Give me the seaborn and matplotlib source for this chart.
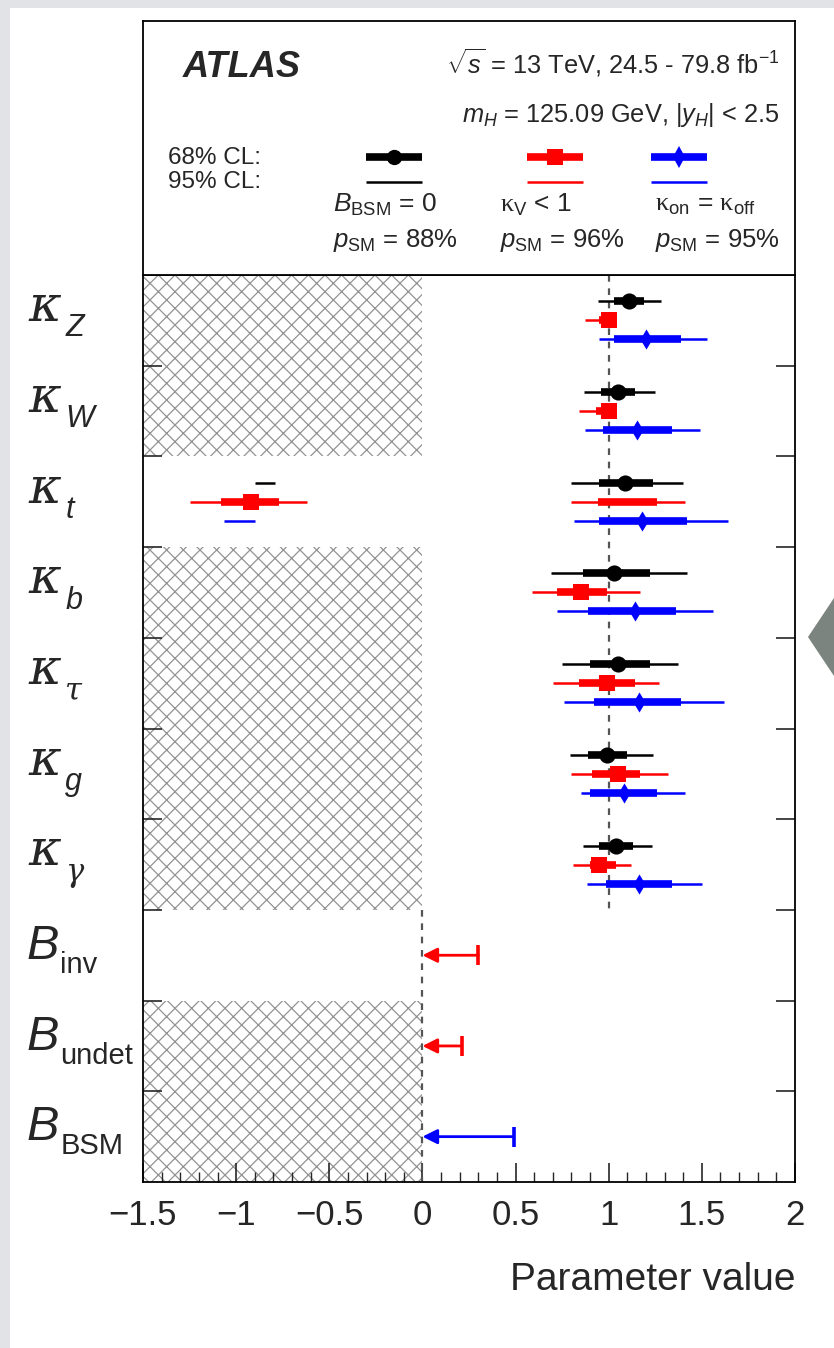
"""
ATLAS Higgs coupling summary: kappa modifiers and BSM branching ratios
for three fit assumptions, redrawn with seaborn/matplotlib.
"""

import numpy as np
import pandas as pd
import matplotlib
matplotlib.use('Agg')
import matplotlib.pyplot as plt
import matplotlib.transforms as mtransforms
from matplotlib.patches import Rectangle, Polygon
from matplotlib.ticker import MultipleLocator, FuncFormatter
import seaborn as sns

# ---- data ----
row_main = ['κ', 'κ', 'κ', 'κ', 'κ', 'κ', 'κ', 'B', 'B', 'B']
row_sub = ['Z', 'W', 't', 'b', 'τ', 'g', 'γ', 'inv', 'undet', 'BSM']
n_kappa = 7

# B_BSM = 0 (black)
blk_mid = [1.11, 1.05, 1.09, 1.03, 1.05, 0.99, 1.04]
blk_lo68 = [1.03, 0.96, 0.95, 0.86, 0.90, 0.89, 0.95]
blk_hi68 = [1.19, 1.14, 1.24, 1.22, 1.22, 1.10, 1.13]
blk_lo95 = [0.94, 0.87, 0.80, 0.69, 0.75, 0.79, 0.86]
blk_hi95 = [1.28, 1.25, 1.40, 1.42, 1.37, 1.24, 1.23]

# kappa_V < 1 (red)
red_mid = [1.00, 1.00, np.nan, 0.85, 0.99, 1.05, 0.95]
red_lo68 = [0.95, 0.93, 0.94, 0.72, 0.84, 0.91, 0.90]
red_hi68 = [1.00, 1.00, 1.26, 0.99, 1.14, 1.17, 1.04]
red_lo95 = [0.875, 0.84, 0.80, 0.59, 0.70, 0.80, 0.81]
red_hi95 = [1.00, 1.00, 1.41, 1.17, 1.27, 1.32, 1.12]

# kappa_on = kappa_off (blue)
blu_mid = [1.20, 1.15, 1.18, 1.14, 1.16, 1.08, 1.16]
blu_lo68 = [1.03, 0.97, 0.95, 0.89, 0.92, 0.90, 0.985]
blu_hi68 = [1.39, 1.34, 1.42, 1.36, 1.39, 1.26, 1.34]
blu_lo95 = [0.95, 0.875, 0.815, 0.72, 0.76, 0.85, 0.885]
blu_hi95 = [1.53, 1.49, 1.64, 1.56, 1.62, 1.41, 1.50]

# negative kappa_t solutions (black, red, blue)
kt_neg_mid = [np.nan, -0.92, np.nan]
kt_neg_lo68 = [np.nan, -1.08, np.nan]
kt_neg_hi68 = [np.nan, -0.77, np.nan]
kt_neg_lo95 = [-0.90, -1.25, -1.065]
kt_neg_hi95 = [-0.79, -0.62, -0.90]

# 95% CL upper limits on B_inv, B_undet, B_BSM
br_limit = [0.30, 0.21, 0.49]
br_model = ['kv', 'kv', 'onoff']

# rows where negative values are excluded (hatched)
hatched_rows = [0, 1, 3, 4, 5, 6, 8, 9]

models = ['bsm0', 'kv', 'onoff']
colors = {'bsm0': '#000000', 'kv': '#ff0000', 'onoff': '#0000ff'}
markers = {'bsm0': 'o', 'kv': 's', 'onoff': 'd'}
msizes = {'bsm0': 135, 'kv': 125, 'onoff': 105}
offsets = {'bsm0': -0.21, 'kv': 0.0, 'onoff': 0.21}
legend_name = {'bsm0': r'$B_{\mathrm{BSM}}$ = 0',
               'kv': r'$\mathsf{\kappa}_{\mathrm{V}}$ < 1',
               'onoff': r'$\mathsf{\kappa}_{\mathrm{on}}$ = $\mathsf{\kappa}_{\mathrm{off}}$'}
legend_psm = {'bsm0': '88%', 'kv': '96%', 'onoff': '95%'}

XMIN, XMAX = -1.5, 2.0


def build_table():
    cols = {'bsm0': (blk_mid, blk_lo68, blk_hi68, blk_lo95, blk_hi95),
            'kv': (red_mid, red_lo68, red_hi68, red_lo95, red_hi95),
            'onoff': (blu_mid, blu_lo68, blu_hi68, blu_lo95, blu_hi95)}
    recs = []
    for m in models:
        mid, lo68, hi68, lo95, hi95 = cols[m]
        for i in range(n_kappa):
            recs.append(dict(row=i, model=m, mid=mid[i], lo68=lo68[i], hi68=hi68[i],
                             lo95=lo95[i], hi95=hi95[i]))
    for j, m in enumerate(models):
        recs.append(dict(row=2, model=m, mid=kt_neg_mid[j], lo68=kt_neg_lo68[j],
                         hi68=kt_neg_hi68[j], lo95=kt_neg_lo95[j], hi95=kt_neg_hi95[j]))
    df = pd.DataFrame(recs)
    df['y'] = df['row'] + df['model'].map(offsets)
    return df


sns.set_style('ticks')
plt.rcParams['font.family'] = ['Liberation Sans', 'DejaVu Sans']
plt.rcParams['mathtext.fontset'] = 'custom'
plt.rcParams['mathtext.rm'] = 'Liberation Sans'
plt.rcParams['mathtext.it'] = 'Liberation Sans:italic'
plt.rcParams['mathtext.bf'] = 'Liberation Sans:bold'
plt.rcParams['mathtext.sf'] = 'Liberation Serif'
plt.rcParams['hatch.linewidth'] = 0.9

df = build_table()

fig = plt.figure(figsize=(8.34, 13.48), dpi=100)
fig.patch.set_facecolor('#e1e3e6')
fig.add_artist(Rectangle((10 / 834, 0), 1, 1 - 8 / 1348, transform=fig.transFigure,
                         facecolor='white', edgecolor='none', zorder=-10))
fig.add_artist(Polygon([(808 / 834, 1 - 637 / 1348), (1, 1 - 598 / 1348), (1, 1 - 676 / 1348)],
                       closed=True, transform=fig.transFigure, facecolor='#7c8480',
                       edgecolor='none'))

ax = fig.add_axes([143 / 834, 1 - 1182 / 1348, 652 / 834, 907 / 1348])
axh = fig.add_axes([143 / 834, 1 - 275 / 1348, 652 / 834, 254 / 1348])

# hatched exclusion of negative values
ax.barh(hatched_rows, width=0 - XMIN, left=XMIN, height=1.0, color='none',
        edgecolor='#939393', hatch='xx', linewidth=0, zorder=0)

# SM reference lines
ax.vlines(1, -0.5, n_kappa - 0.5, color='#555555', linestyle=(0, (3, 3)), lw=1.6, zorder=1)
ax.vlines(0, n_kappa - 0.5, len(row_main) - 0.5, color='#555555', linestyle=(0, (3, 3)),
          lw=1.6, zorder=1)

# intervals
for _, r in df.iterrows():
    c = colors[r['model']]
    ax.hlines(r['y'], r['lo95'], r['hi95'], color=c, lw=1.8, zorder=2)
    if not np.isnan(r['lo68']):
        ax.hlines(r['y'], r['lo68'], r['hi68'], color=c, lw=5.5, zorder=3)

# central values
for m in models:
    sub = df[(df['model'] == m) & df['mid'].notna()]
    sns.scatterplot(data=sub, x='mid', y='y', color=colors[m], marker=markers[m],
                    s=msizes[m], linewidth=0, ax=ax, zorder=4, legend=False)

# upper limits on branching ratios
for k, (lim, m) in enumerate(zip(br_limit, br_model)):
    yy = n_kappa + k
    ax.annotate('', xy=(0, yy), xytext=(lim, yy),
                arrowprops=dict(arrowstyle='-|>', color=colors[m], lw=2.0,
                                mutation_scale=22, shrinkA=0, shrinkB=0), zorder=4)
    ax.plot([lim], [yy], marker='|', ms=14, mew=2.6, color=colors[m], zorder=4)

ax.set_xlim(XMIN, XMAX)
ax.set_ylim(len(row_main) - 0.5, -0.5)
ax.set_xlabel('Parameter value', fontsize=28, loc='right', labelpad=22)
ax.set_ylabel('')

ax.xaxis.set_major_locator(MultipleLocator(0.5))
ax.xaxis.set_minor_locator(MultipleLocator(0.1))
ax.xaxis.set_major_formatter(FuncFormatter(lambda v, _: f'{v:g}'.replace('-', '\u2212')))
ax.tick_params(axis='x', which='major', direction='in', length=14, width=1.2,
               labelsize=25, pad=12, top=False)
ax.tick_params(axis='x', which='minor', direction='in', length=7, width=1.0, top=False)

# row boundaries as ticks, row names drawn as symbol + subscript
ax.set_yticks(np.arange(0.5, len(row_main) - 0.5, 1.0))
ax.set_yticklabels([])
ax.tick_params(axis='y', which='major', direction='in', length=14, width=1.2,
               left=True, right=True)
ytrans = mtransforms.blended_transform_factory(ax.transAxes, ax.transData)
for i, (main, sub) in enumerate(zip(row_main, row_sub)):
    if main == 'κ':
        t = ax.text(-0.176, i + 0.01, main, transform=ytrans, fontsize=36,
                    family='DejaVu Serif', style='italic', ha='left', va='baseline',
                    clip_on=False)
        sub_kw = dict(fontsize=22, style='italic',
                      family='DejaVu Serif' if sub in ('τ', 'γ') else 'Liberation Sans')
        dx, dy = 3, -3
    else:
        t = ax.text(-0.1785, i + 0.04, main, transform=ytrans, fontsize=35,
                    style='italic', ha='left', va='baseline', clip_on=False)
        sub_kw = dict(fontsize=21)
        dx, dy = 1, -3
    ax.annotate(sub, xy=(1, 0), xycoords=t, xytext=(dx, dy), textcoords='offset points',
                ha='left', va='baseline', annotation_clip=False, **sub_kw)

for sp in ax.spines.values():
    sp.set_visible(True)
    sp.set_linewidth(1.3)
    sp.set_color('black')

# header box with labels and legend
axh.set_xlim(0, 1)
axh.set_ylim(0, 1)
axh.set_xticks([])
axh.set_yticks([])
for sp in axh.spines.values():
    sp.set_linewidth(1.3)
    sp.set_color('black')

axh.text(0.061, 0.815, 'ATLAS', fontsize=26, fontweight='bold', fontstyle='italic',
         ha='left', va='center')
axh.text(0.977, 0.835, r'$\sqrt{s}$ = 13 TeV, 24.5 - 79.8 fb$^{-1}$', fontsize=18.3,
         ha='right', va='center')
axh.text(0.977, 0.63, r'$m_H$ = 125.09 GeV, $|y_H|$ < 2.5', fontsize=18.3,
         ha='right', va='center')
axh.text(0.038, 0.46, '68% CL:', fontsize=17.5, ha='left', va='center')
axh.text(0.038, 0.365, '95% CL:', fontsize=17.5, ha='left', va='center')

legend_x = {'bsm0': 0.342, 'kv': 0.589, 'onoff': 0.779}
label_x = {'bsm0': 0.291, 'kv': 0.548, 'onoff': 0.785}
for m in models:
    x0 = legend_x[m]
    axh.plot([x0, x0 + 0.086], [0.465, 0.465], color=colors[m], lw=5.5, solid_capstyle='butt')
    axh.plot([x0 + 0.043], [0.465], marker=markers[m], ms=11, color=colors[m], mew=0)
    axh.plot([x0, x0 + 0.086], [0.366, 0.366], color=colors[m], lw=1.8, solid_capstyle='butt')
    axh.text(label_x[m], 0.276, legend_name[m], fontsize=19, ha='left', va='center')
    axh.text(label_x[m], 0.135, r'$p_{\mathrm{SM}}$ = ' + legend_psm[m], fontsize=18.5,
             ha='left', va='center')

plt.savefig('out.png', dpi=100, facecolor=fig.get_facecolor())
plt.close()
print('saved out.png')
